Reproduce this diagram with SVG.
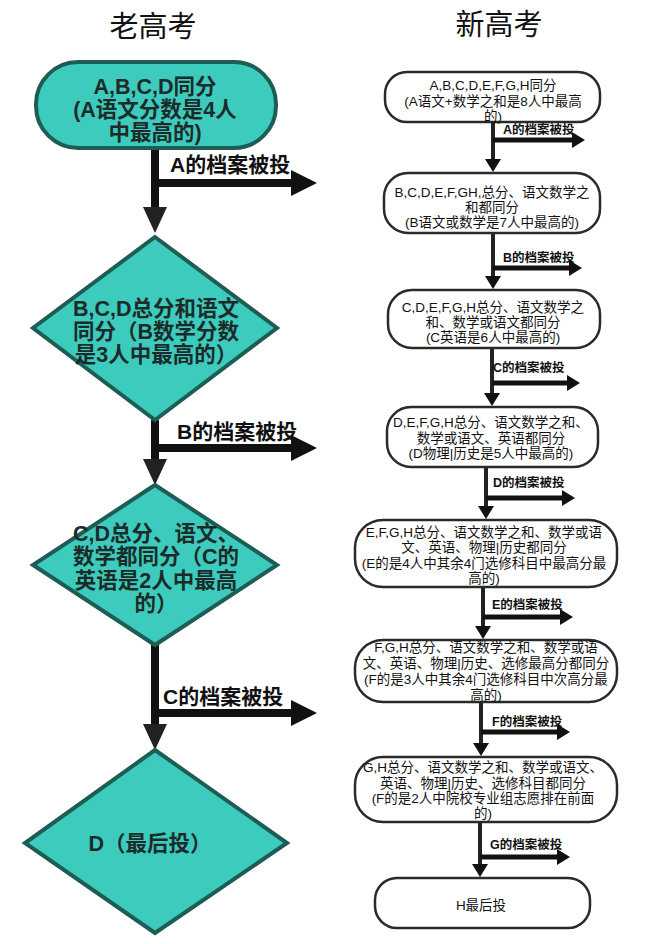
<svg xmlns="http://www.w3.org/2000/svg" width="646" height="944" viewBox="0 0 646 944">
<style>
.title{font-family:"Liberation Sans","Noto Sans CJK SC",sans-serif;font-size:29px;fill:#111;text-anchor:middle}
.lt{font-family:"Liberation Sans","Noto Sans CJK SC",sans-serif;font-size:21.5px;font-weight:bold;fill:#1c2b29;text-anchor:middle}
.ll{font-family:"Liberation Sans","Noto Sans CJK SC",sans-serif;font-size:21px;font-weight:bold;fill:#111}
.rt{font-family:"Liberation Sans","Noto Sans CJK SC",sans-serif;font-size:13.5px;fill:#111;text-anchor:middle}
.rl{font-family:"Liberation Sans","Noto Sans CJK SC",sans-serif;font-size:12.5px;font-weight:bold;fill:#111}
.tealnode{fill:#3ccbbd;stroke:#1e5d55;stroke-width:4}
.wnode{fill:#fff;stroke:#2a2a2a;stroke-width:2.5}
.bigline{stroke:#111;stroke-width:8;fill:none}
.smline{stroke:#222;stroke-width:4;fill:none}
.smhline{stroke:#111;stroke-width:5;fill:none}
</style>
<defs>
<marker id="bigHead" markerUnits="userSpaceOnUse" markerWidth="28" markerHeight="28" refX="0" refY="13" orient="auto" viewBox="0 0 28 28">
<path d="M0,0 L26,13 L0,26 z" fill="#111"/>
</marker>
<marker id="bigHeadV" markerUnits="userSpaceOnUse" markerWidth="28" markerHeight="28" refX="0" refY="12" orient="auto" viewBox="0 0 28 28">
<path d="M0,0 L26,12 L0,24 z" fill="#222"/>
</marker>
<marker id="smHead" markerUnits="userSpaceOnUse" markerWidth="16" markerHeight="18" refX="0" refY="8" orient="auto" viewBox="0 0 16 18">
<path d="M0,0 L13,8 L0,16 z" fill="#111"/>
</marker>
</defs>

<text class="title" x="153" y="37">老高考</text>
<text class="title" x="499" y="35">新高考</text>

<g id="connectors">
<line class="bigline" x1="155" y1="150" x2="155" y2="207" marker-end="url(#bigHeadV)"/>
<line class="bigline" x1="155" y1="183" x2="291" y2="183" marker-end="url(#bigHead)"/>
<line class="bigline" x1="155" y1="420" x2="155" y2="459" marker-end="url(#bigHeadV)"/>
<line class="bigline" x1="155" y1="448" x2="291" y2="448" marker-end="url(#bigHead)"/>
<line class="bigline" x1="155" y1="645" x2="155" y2="724" marker-end="url(#bigHeadV)"/>
<line class="bigline" x1="155" y1="713" x2="291" y2="713" marker-end="url(#bigHead)"/>

<line class="smline" x1="493" y1="122" x2="493" y2="159" marker-end="url(#smHead)"/>
<line class="smhline" x1="493" y1="140" x2="572" y2="140" marker-end="url(#smHead)"/>
<line class="smline" x1="493" y1="233" x2="493" y2="276" marker-end="url(#smHead)"/>
<line class="smhline" x1="493" y1="268" x2="569" y2="268" marker-end="url(#smHead)"/>
<line class="smline" x1="492" y1="348" x2="492" y2="393" marker-end="url(#smHead)"/>
<line class="smhline" x1="492" y1="383" x2="567" y2="383" marker-end="url(#smHead)"/>
<line class="smline" x1="486" y1="467" x2="486" y2="506" marker-end="url(#smHead)"/>
<line class="smhline" x1="486" y1="498" x2="562" y2="498" marker-end="url(#smHead)"/>
<line class="smline" x1="483" y1="587" x2="483" y2="626" marker-end="url(#smHead)"/>
<line class="smhline" x1="483" y1="617" x2="560" y2="617" marker-end="url(#smHead)"/>
<line class="smline" x1="481" y1="702" x2="481" y2="743" marker-end="url(#smHead)"/>
<line class="smhline" x1="481" y1="732" x2="557" y2="732" marker-end="url(#smHead)"/>
<line class="smline" x1="480" y1="822" x2="480" y2="864" marker-end="url(#smHead)"/>
<line class="smhline" x1="480" y1="857" x2="557" y2="857" marker-end="url(#smHead)"/>

<text class="ll" x="170" y="172">A的档案被投</text>
<text class="ll" x="177" y="439">B的档案被投</text>
<text class="ll" x="163" y="704">C的档案被投</text>

<text class="rl" x="503" y="134">A的档案被投</text>
<text class="rl" x="503" y="262">B的档案被投</text>
<text class="rl" x="493" y="372">C的档案被投</text>
<text class="rl" x="493" y="487">D的档案被投</text>
<text class="rl" x="492" y="609">E的档案被投</text>
<text class="rl" x="492" y="726">F的档案被投</text>
<text class="rl" x="490" y="849">G的档案被投</text>
</g>

<g id="old1">
<rect class="tealnode" x="36" y="62" width="240" height="86" rx="42"/>
<text class="lt" x="155" y="94">A,B,C,D同分</text>
<text class="lt" x="155" y="117">(A语文分数是4人</text>
<text class="lt" x="155" y="140">中最高的)</text>
</g>
<g id="old2">
<polygon class="tealnode" points="155,237 277,328 155,420 33,328"/>
<text class="lt" x="156" y="316">B,C,D总分和语文</text>
<text class="lt" x="156" y="339">同分（B数学分数</text>
<text class="lt" x="156" y="362">是3人中最高的）</text>
</g>
<g id="old3">
<polygon class="tealnode" points="155,485 277,565 155,645 33,565"/>
<text class="lt" x="156" y="541">C,D总分、语文、</text>
<text class="lt" x="156" y="564">数学都同分（C的</text>
<text class="lt" x="156" y="588">英语是2人中最高</text>
<text class="lt" x="156" y="611">的）</text>
</g>
<g id="old4">
<polygon class="tealnode" points="155,750 287,843 155,933 25,843"/>
<text class="lt" x="150" y="851">D（最后投）</text>
</g>

<g id="new1">
<rect class="wnode" x="385" y="72" width="215" height="50" rx="22"/>
<text class="rt" x="493" y="90">A,B,C,D,E,F,G,H同分</text>
<text class="rt" x="493" y="106">(A语文+数学之和是8人中最高</text>
<text class="rt" x="493" y="121">的)</text>
</g>
<g id="new2">
<rect class="wnode" x="384" y="173" width="216" height="60" rx="24"/>
<text class="rt" x="492" y="197">B,C,D,E,F,GH,总分、语文数学之</text>
<text class="rt" x="492" y="212">和都同分</text>
<text class="rt" x="492" y="227">(B语文或数学是7人中最高的)</text>
</g>
<g id="new3">
<rect class="wnode" x="388" y="290" width="212" height="58" rx="24"/>
<text class="rt" x="493" y="312">C,D,E,F,G,H总分、语文数学之</text>
<text class="rt" x="493" y="327">和、数学或语文都同分</text>
<text class="rt" x="493" y="342">(C英语是6人中最高的)</text>
</g>
<g id="new4">
<rect class="wnode" x="387" y="407" width="211" height="60" rx="24"/>
<text class="rt" x="491" y="427">D,E,F,G,H总分、语文数学之和、</text>
<text class="rt" x="491" y="443">数学或语文、英语都同分</text>
<text class="rt" x="491" y="458">(D物理|历史是5人中最高的)</text>
</g>
<g id="new5">
<rect class="wnode" x="355" y="520" width="262" height="67" rx="28"/>
<text class="rt" x="484" y="537">E,F,G,H总分、语文数学之和、数学或语</text>
<text class="rt" x="484" y="552">文、英语、物理|历史都同分</text>
<text class="rt" x="484" y="568">(E的是4人中其余4门选修科目中最高分最</text>
<text class="rt" x="484" y="583">高的)</text>
</g>
<g id="new6">
<rect class="wnode" x="355" y="640" width="262" height="62" rx="28"/>
<text class="rt" x="486" y="652">F,G,H总分、语文数学之和、数学或语</text>
<text class="rt" x="486" y="668">文、英语、物理|历史、选修最高分都同分</text>
<text class="rt" x="486" y="684">(F的是3人中其余4门选修科目中次高分最</text>
<text class="rt" x="486" y="700">高的)</text>
</g>
<g id="new7">
<rect class="wnode" x="355" y="757" width="262" height="65" rx="28"/>
<text class="rt" x="483" y="772">G,H总分、语文数学之和、数学或语文、</text>
<text class="rt" x="483" y="788">英语、物理|历史、选修科目都同分</text>
<text class="rt" x="483" y="803">(F的是2人中院校专业组志愿排在前面</text>
<text class="rt" x="483" y="818">的)</text>
</g>
<g id="new8">
<rect class="wnode" x="375" y="878" width="215" height="50" rx="22"/>
<text class="rt" x="481" y="910">H最后投</text>
</g>
</svg>
